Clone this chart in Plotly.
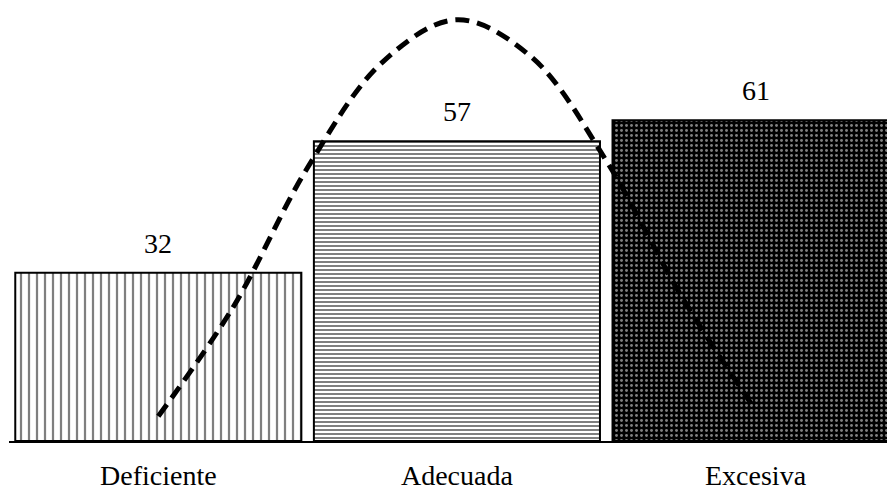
import plotly.graph_objects as go

categories = ["Deficiente", "Adecuada", "Excesiva"]
values = [32, 57, 61]
label_text = ["32", "57", "61"]

curve_x = [0.0, 0.25, 0.5, 0.75, 1.0, 1.25, 1.5, 1.75, 1.99]
curve_y = [4.7, 25.4, 52.0, 72.0, 80.1, 73.0, 53.3, 27.7, 6.7]

xpos = list(range(len(categories)))

patterns = [
    dict(shape="|", fgcolor="black", bgcolor="white", size=8, solidity=0.28),
    dict(shape="-", fgcolor="black", bgcolor="white", size=4, solidity=0.5),
    dict(shape=".", fgcolor="white", bgcolor="black", size=5, solidity=0.26),
]

fig = go.Figure()
for i, (xp, v) in enumerate(zip(xpos, values)):
    fig.add_trace(go.Bar(
        x=[xp], y=[v], width=0.958,
        marker=dict(color=patterns[i]["bgcolor"], pattern=patterns[i],
                    line=dict(color="black", width=2)),
        showlegend=False, hoverinfo="skip",
    ))

fig.add_trace(go.Scatter(
    x=curve_x, y=curve_y, mode="lines",
    line=dict(color="black", width=5, dash="14px,8px", shape="spline", smoothing=1.0),
    showlegend=False, hoverinfo="skip",
))

for xp, v, t in zip(xpos, values, label_text):
    fig.add_annotation(x=xp, y=v, text=t, showarrow=False, yanchor="bottom",
                       yshift=12, font=dict(family="Liberation Serif", size=28, color="black"))

fig.update_layout(
    width=887, height=483,
    margin=dict(l=1, r=0, t=0, b=43),
    paper_bgcolor="white", plot_bgcolor="white",
    barmode="overlay",
    xaxis=dict(range=[-0.5, 2.467], tickvals=xpos, ticktext=categories,
               showline=True, linecolor="black", linewidth=2, showgrid=False,
               zeroline=False, ticks="", ticklen=0, ticklabelstandoff=8,
               tickfont=dict(family="Liberation Serif", size=28, color="black")),
    yaxis=dict(range=[0, 82.34], visible=False, showgrid=False, zeroline=False),
)

fig.write_html("out.html")
